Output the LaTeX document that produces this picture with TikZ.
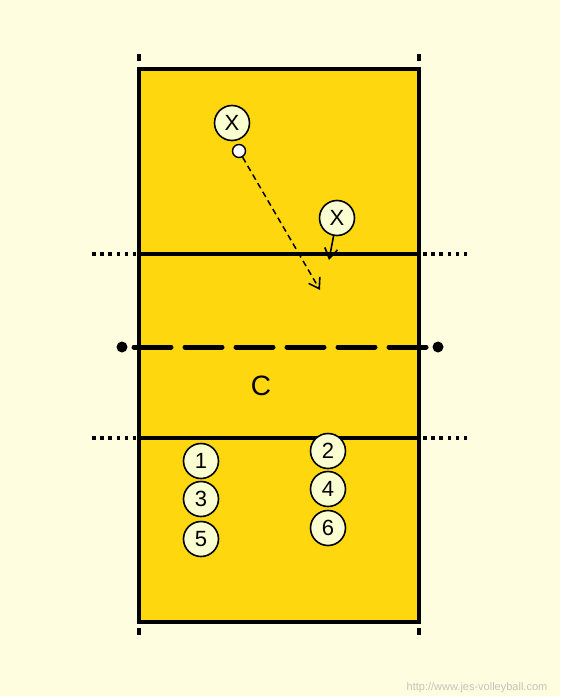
\documentclass[tikz,border=0pt]{standalone}
\usepackage{fontspec}
\setmainfont{Liberation Sans}
\usetikzlibrary{arrows.meta}
\definecolor{CourtBack}{HTML}{FFFDDF}
\definecolor{CourtGold}{HTML}{FFD70F}
\definecolor{PlayerFill}{HTML}{FAFFD2}
\definecolor{MarkGrey}{HTML}{C4C4BC}
\tikzset{
  player/.style={circle,draw=black,line width=1.6pt,fill=PlayerFill,
    minimum size=35pt,inner sep=0pt,font=\fontsize{22}{26}\selectfont},
  ballnode/.style={circle,draw=black,line width=1.4pt,fill=white,
    minimum size=13pt,inner sep=0pt},
  courtline/.style={line width=3.2pt},
  dotline/.style={line width=3.6pt,dash pattern=on 3.6pt off 4.6pt},
  passarrow/.style={line width=1.5pt,dash pattern=on 6pt off 4pt,
    -{Straight Barb[length=10pt,width=13pt,line width=1.6pt]}},
  movearrow/.style={line width=1.6pt,
    -{Straight Barb[length=10pt,width=13pt,line width=1.7pt]}}
}
\begin{document}
\begin{tikzpicture}[x=1pt,y=-1pt]
        \fill[CourtBack] (0,0) rectangle (560,696);
        \useasboundingbox (0,0) rectangle (560,696);

        % court
        \fill[CourtGold] (139,69) rectangle (419,622);
        \draw[courtline] (139,69) rectangle (419,622);
        \draw[courtline] (139,254) -- (419,254);
        \draw[courtline] (139,438) -- (419,438);

        % antennas marks
        \draw[line width=3.6pt] (139,54) -- (139,61);
        \draw[line width=3.6pt] (419,54) -- (419,61);
        \draw[line width=3.6pt] (139,628) -- (139,635);
        \draw[line width=3.6pt] (419,628) -- (419,635);

        % attack line extensions
        \draw[dotline] (92,254) -- (136,254);
        \draw[dotline] (423,254) -- (467,254);
        \draw[dotline] (92,438) -- (136,438);
        \draw[dotline] (423,438) -- (467,438);

        % net
        \draw[line width=5pt,line cap=round,dash pattern=on 37pt off 14pt]
          (134,347) -- (426,347);
        \fill (122,347) circle (5.5pt);
        \fill (438,347) circle (5.5pt);

        % players
        \node[player] (xa) at (232,123) {X};
        \node[ballnode] (ball) at (239,151) {};
        \node[player] (xb) at (337,218) {X};
        \coordinate (passend) at (320,290);
        \coordinate (moveend) at (329,260);
        \draw[passarrow] (ball) -- (passend);
        \draw[movearrow] (xb) -- (moveend);

        \node[font=\fontsize{28}{33}\selectfont] (coach) at (261,386) {C};

        \node[player] (p1) at (201,461) {1};
        \node[player] (p3) at (201,499) {3};
        \node[player] (p5) at (201,539) {5};
        \node[player] (p2) at (328,451) {2};
        \node[player] (p4) at (328,489) {4};
        \node[player] (p6) at (328,528) {6};

        \node[text=MarkGrey,font=\fontsize{11}{13}\selectfont]
          (site) at (477,688) {http://www.jes-volleyball.com};
      \end{tikzpicture}
\end{document}
